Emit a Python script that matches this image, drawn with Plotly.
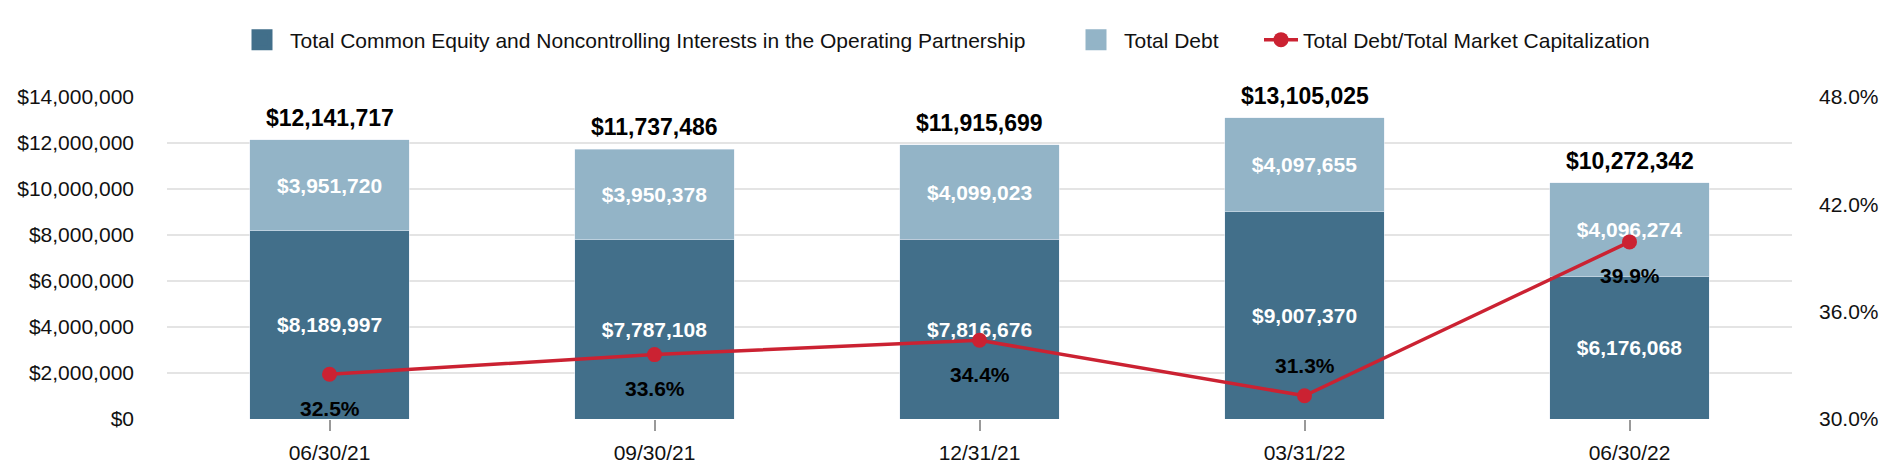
import plotly.graph_objects as go

# ---- data ----
dates = ["06/30/21", "09/30/21", "12/31/21", "03/31/22", "06/30/22"]
equity = [8189997, 7787108, 7816676, 9007370, 6176068]
debt = [3951720, 3950378, 4099023, 4097655, 4096274]
debt_ratio = [32.5, 33.6, 34.4, 31.3, 39.9]
ratio_label_side = ["below", "below", "below", "above", "below"]
y_ticks = [0, 2000000, 4000000, 6000000, 8000000, 10000000, 12000000, 14000000]
y2_ticks = [30, 36, 42, 48]
y2_ticklabels = ["30.0%", "36.0%", "42.0%", "48.0%"]

name_equity = "Total Common Equity and Noncontrolling Interests in the Operating Partnership"
name_debt = "Total Debt"
name_ratio = "Total Debt/Total Market Capitalization"

# ---- styles ----
DARK = "#426F8A"
LIGHT = "#93B4C7"
RED = "#CB2232"
GRID = "#E4E4E4"
FONT = "Liberation Sans, Arial, Helvetica, sans-serif"
W, H = 1900, 476

totals = [e + d for e, d in zip(equity, debt)]

fig = go.Figure()

seg_font = dict(color="white", size=21, family=FONT, weight="bold")
fig.add_bar(x=dates, y=equity, name=name_equity, marker_color=DARK,
            text=[f"${v:,}" for v in equity], textposition="inside",
            insidetextanchor="middle", textangle=0, constraintext="none",
            insidetextfont=seg_font, showlegend=False, hoverinfo="skip")
fig.add_bar(x=dates, y=debt, name=name_debt, marker_color=LIGHT,
            text=[f"${v:,}" for v in debt], textposition="inside",
            insidetextanchor="middle", textangle=0, constraintext="none",
            insidetextfont=seg_font, showlegend=False, hoverinfo="skip")

# legend entries (square swatches)
fig.add_scatter(x=[None], y=[None], name=name_equity, mode="markers",
                marker=dict(symbol="square", size=16, color=DARK,
                            line=dict(color=DARK, width=5)),
                legend="legend")
fig.add_scatter(x=[None], y=[None], name=name_debt, mode="markers",
                marker=dict(symbol="square", size=16, color=LIGHT,
                            line=dict(color=LIGHT, width=5)),
                legend="legend2")

fig.add_scatter(x=dates, y=debt_ratio, yaxis="y2", name=name_ratio,
                mode="lines+markers", line=dict(color=RED, width=3.5),
                marker=dict(size=15, color=RED), legend="legend3",
                hoverinfo="skip")

annotations = []
for d, t in zip(dates, totals):
    annotations.append(dict(x=d, y=t, xref="x", yref="y", text=f"${t:,}",
                            showarrow=False, yanchor="middle", yshift=22,
                            font=dict(size=23, family=FONT, color="#000", weight="bold")))
for d, v, side in zip(dates, debt_ratio, ratio_label_side):
    annotations.append(dict(x=d, y=v, xref="x", yref="y2", text=f"{v:.1f}%",
                            showarrow=False, yanchor="middle",
                            yshift=(-34 if side == "below" else 30),
                            font=dict(size=21, family=FONT, color="#000", weight="bold")))

leg_y = 1 - 40 / H
leg_common = dict(orientation="h", xref="container", yref="container",
                  xanchor="left", yanchor="middle", y=leg_y,
                  bgcolor="rgba(0,0,0,0)", borderwidth=0,
                  font=dict(size=21, family=FONT, color="#111"))

fig.update_layout(
    width=W, height=H,
    margin=dict(l=167, r=108, t=97, b=57, autoexpand=False),
    paper_bgcolor="white", plot_bgcolor="white",
    barmode="stack", bargap=0.51,
    font=dict(family=FONT, size=21, color="#111"),
    showlegend=True,
    legend=dict(**leg_common, x=234 / W, itemwidth=46),
    legend2=dict(**leg_common, x=1068 / W, itemwidth=46),
    legend3=dict(**leg_common, x=1259 / W, itemwidth=34),
    xaxis=dict(type="category", ticks="outside", ticklen=11, tickwidth=1.5,
               tickcolor="#999", showgrid=False, showline=False, zeroline=False,
               tickfont=dict(size=21, family=FONT, color="#111"),
               ticklabelstandoff=4),
    yaxis=dict(range=[0, 14000000], tickvals=y_ticks, tickformat="$,.0f",
               showgrid=True, gridcolor=GRID, gridwidth=2, zeroline=False,
               showline=False, ticks="", ticklabelstandoff=32,
               tickfont=dict(size=21, family=FONT, color="#111")),
    yaxis2=dict(overlaying="y", side="right", range=[30, 48], tickvals=y2_ticks,
                ticktext=y2_ticklabels, showgrid=False, zeroline=False,
                showline=False, ticks="", ticklabelstandoff=26,
                tickfont=dict(size=21, family=FONT, color="#111")),
    annotations=annotations,
    hovermode=False,
)

fig.write_html("out.html")
